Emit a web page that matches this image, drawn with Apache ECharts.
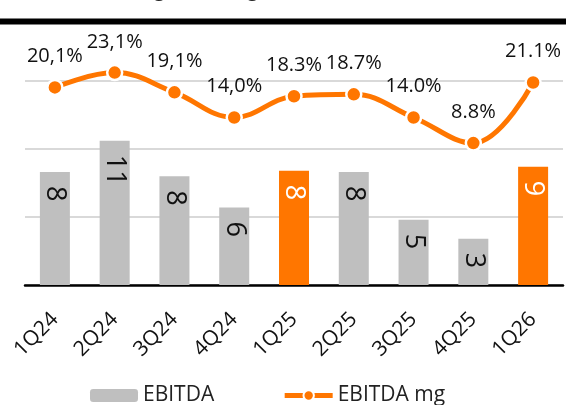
<!DOCTYPE html>
<html>
<head>
<meta charset="utf-8">
<script src="https://cdn.jsdelivr.net/npm/echarts@6/dist/echarts.min.js"></script>
<style>
  html, body { margin: 0; padding: 0; background: #ffffff; }
  #chart { width: 566px; height: 405px; }
</style>
</head>
<body>
<div id="chart"></div>
<script>
// quarters on the x axis
const quarters = ['1Q24', '2Q24', '3Q24', '4Q24', '1Q25', '2Q25', '3Q25', '4Q25', '1Q26'];
// EBITDA (R$ mn)
const ebitda = [8.3, 10.6, 8.0, 5.7, 8.4, 8.3, 4.8, 3.4, 8.7];
// EBITDA margin (%) and the labels as printed
const ebitdaMargin = [20.1, 23.1, 19.1, 14.0, 18.3, 18.7, 14.0, 8.8, 21.1];
const marginLabels = ['20,1%', '23,1%', '19,1%', '14,0%', '18.3%', '18.7%', '14.0%', '8.8%', '21.1%'];
// quarters drawn in orange
const highlighted = ['1Q25', '1Q26'];

const GRAY = '#BFBFBF';
const ORANGE = '#FF7600';
const FONT = 'Open Sans';

const chart = echarts.init(document.getElementById('chart'));

const barData = ebitda.map((v, i) => {
    const hot = highlighted.includes(quarters[i]);
    return {
        value: v,
        itemStyle: { color: hot ? ORANGE : GRAY },
        label: { color: hot ? '#ffffff' : '#111111' }
    };
});

const option = {
    animation: false,
    textStyle: { fontFamily: FONT },
    graphic: [
        {
            // title cut off by the top edge of the picture, only descenders show
            type: 'text',
            x: 483,
            y: -20,
            style: {
                text: 'Evolution of gross margin and EBITDA (BRL, mn)',
                fontSize: 20,
                fontFamily: FONT,
                fill: '#222',
                textAlign: 'right',
                textVerticalAlign: 'top'
            }
        },
        {
            type: 'rect',
            shape: { x: 0, y: 18.5, width: 566, height: 6 },
            style: { fill: '#000000' }
        }
    ],
    grid: { left: 25, right: 3, top: 81, bottom: 120 },
    legend: {
        left: 85,
        top: 380,
        itemGap: 68,
        itemWidth: 48,
        itemHeight: 13,
        lineStyle: { width: 5 },
        textStyle: { fontSize: 21, color: '#222', fontFamily: FONT },
        data: ['EBITDA', 'EBITDA mg']
    },
    xAxis: {
        type: 'category',
        data: quarters,
        axisTick: { show: false },
        axisLine: { lineStyle: { color: '#000', width: 2.5 } },
        axisLabel: { rotate: 45, margin: 31, fontSize: 21, color: '#111', fontFamily: FONT, interval: 0 }
    },
    yAxis: [
        {
            type: 'value',
            min: 0,
            max: 15,
            interval: 5,
            axisLabel: { show: false },
            axisLine: { show: false },
            axisTick: { show: false },
            splitLine: { lineStyle: { color: '#D9D9D9', width: 2 } }
        },
        {
            type: 'value',
            min: -20,
            max: 21.4,
            show: false,
            splitLine: { show: false }
        }
    ],
    series: [
        {
            name: 'EBITDA',
            type: 'bar',
            data: barData,
            barWidth: 30,
            itemStyle: { color: GRAY },
            label: {
                show: true,
                position: 'insideTop',
                distance: 14,
                rotate: -90,
                align: 'left',
                verticalAlign: 'middle',
                fontSize: 27,
                fontFamily: FONT,
                formatter: (p) => String(Math.round(p.value))
            }
        },
        {
            name: 'EBITDA mg',
            type: 'line',
            yAxisIndex: 1,
            data: ebitdaMargin,
            smooth: 0.4,
            clip: false,
            symbol: 'circle',
            symbolSize: 15,
            lineStyle: { color: ORANGE, width: 5 },
            itemStyle: { color: ORANGE, borderColor: '#ffffff', borderWidth: 2.5 },
            label: {
                show: true,
                position: 'top',
                distance: 12,
                fontSize: 20,
                color: '#111',
                fontFamily: FONT,
                formatter: (p) => marginLabels[p.dataIndex]
            }
        }
    ]
};

chart.setOption(option);
</script>
</body>
</html>
